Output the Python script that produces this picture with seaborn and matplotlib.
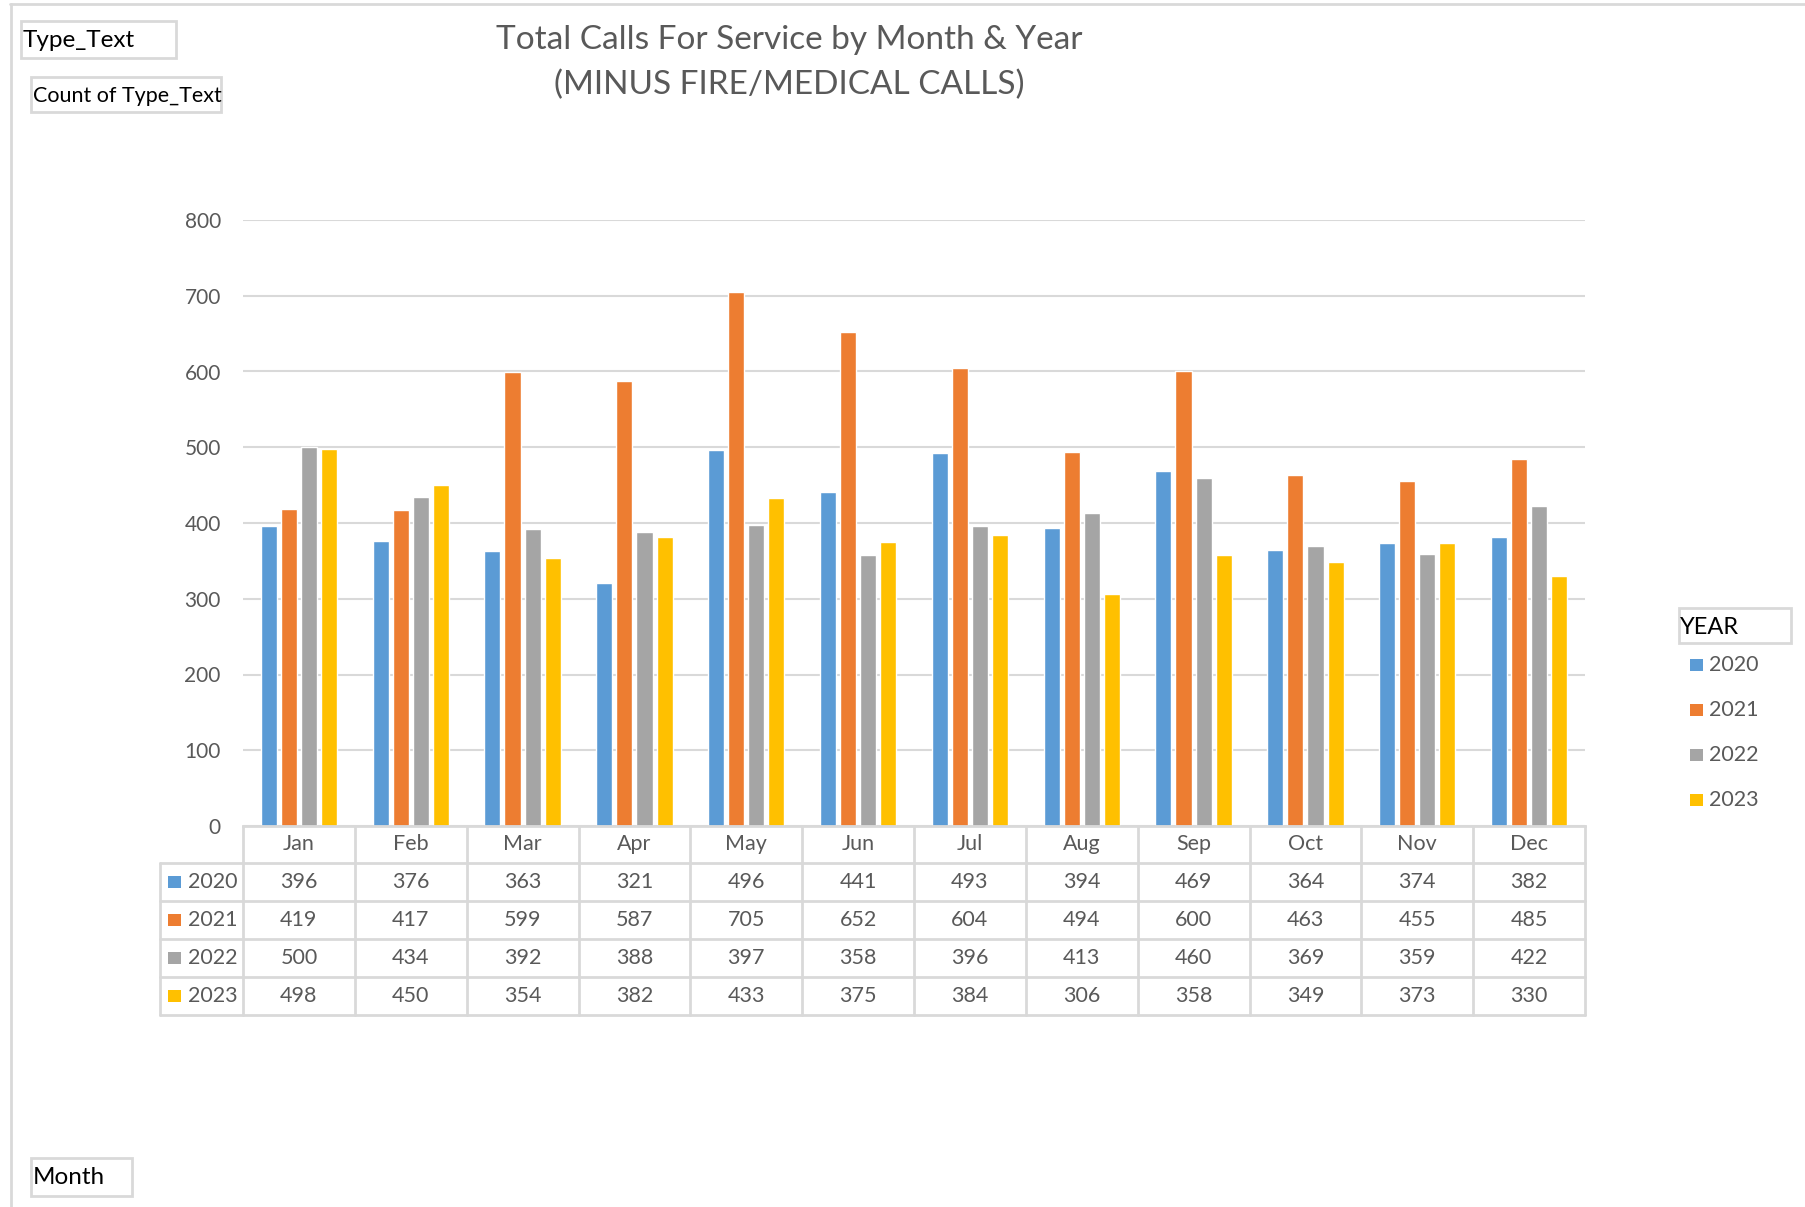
import matplotlib
matplotlib.use("Agg")
import matplotlib.pyplot as plt
import matplotlib.transforms as mtransforms
from matplotlib.patches import Rectangle
import seaborn as sns
import pandas as pd

# data
months = ["Jan", "Feb", "Mar", "Apr", "May", "Jun", "Jul", "Aug", "Sep", "Oct", "Nov", "Dec"]
years = ["2020", "2021", "2022", "2023"]
calls_2020 = [396, 376, 363, 321, 496, 441, 493, 394, 469, 364, 374, 382]
calls_2021 = [419, 417, 599, 587, 705, 652, 604, 494, 600, 463, 455, 485]
calls_2022 = [500, 434, 392, 388, 397, 358, 396, 413, 460, 369, 359, 422]
calls_2023 = [498, 450, 354, 382, 433, 375, 384, 306, 358, 349, 373, 330]
year_colors = ["#5B9BD5", "#ED7D31", "#A5A5A5", "#FFC000"]

series = [calls_2020, calls_2021, calls_2022, calls_2023]
df = pd.DataFrame({
    "Month": months * len(years),
    "Year": [y for y in years for _ in months],
    "Calls": [v for s in series for v in s],
})

sns.set_theme(style="white")
plt.rcParams["font.family"] = ["Lato", "DejaVu Sans"]

W, H = 1806, 1207
fig = plt.figure(figsize=(W / 100, H / 100), dpi=100)
# axes placed in pixel terms
left, right, top, bottom = 243, 1585, 220, 826
ax = fig.add_axes([left / W, 1 - bottom / H, (right - left) / W, (bottom - top) / H])

sns.barplot(data=df, x="Month", y="Calls", hue="Year", palette=year_colors,
            width=0.72, gap=0.2, legend=False, ax=ax, saturation=1)

grey_txt = "#595959"
line_col = "#D9D9D9"
ax.set_ylim(0, 800)
ax.set_xlim(-0.5, len(months) - 0.5)
ax.set_yticks(range(0, 801, 100))
ax.grid(axis="y", color=line_col, lw=1.5)
ax.set_axisbelow(True)
for s in ["top", "right", "left"]:
    ax.spines[s].set_visible(False)
ax.spines["bottom"].set_color(line_col)
ax.spines["bottom"].set_linewidth(2)
ax.tick_params(axis="y", length=0, pad=16, labelsize=15, labelcolor=grey_txt)
ax.tick_params(axis="x", length=0, pad=5.5, labelsize=15.5, labelcolor=grey_txt)
ax.set_xlabel("")
ax.set_ylabel("")

# data table under the axis
tr = mtransforms.blended_transform_factory(ax.transData, fig.transFigure)
ff = fig.transFigure
row_edges = [826, 863, 901, 939, 977, 1015]
label_left = 160
fy = lambda p: 1 - p / H
for k in range(len(months) + 1):
    ax.plot([k - 0.5, k - 0.5], [fy(row_edges[0]), fy(row_edges[-1])], transform=tr,
            color=line_col, lw=2, clip_on=False)
fig.add_artist(plt.Line2D([label_left / W, label_left / W], [fy(row_edges[1]), fy(row_edges[-1])],
                          transform=ff, color=line_col, lw=2))
for p in row_edges[1:]:
    fig.add_artist(plt.Line2D([label_left / W, right / W], [fy(p), fy(p)], transform=ff,
                              color=line_col, lw=2))
for r, (yr, vals, col) in enumerate(zip(years, series, year_colors)):
    yc = fy((row_edges[r + 1] + row_edges[r + 2]) / 2)
    fig.add_artist(Rectangle((168 / W, yc - 6 / H), 13 / W, 12 / H, transform=ff,
                             color=col, lw=0))
    fig.text(188 / W, yc, yr, ha="left", va="center", fontsize=15.5, color=grey_txt)
    for i, v in enumerate(vals):
        ax.text(i, yc, str(v), transform=tr, ha="center", va="center",
                fontsize=15.5, color=grey_txt)

# title
fig.text(789 / W, fy(40), "Total Calls For Service by Month & Year", ha="center", va="center",
         fontsize=24, color=grey_txt)
fig.text(789 / W, fy(85), "(MINUS FIRE/MEDICAL CALLS)", ha="center", va="center",
         fontsize=24, color=grey_txt)

# legend
fig.add_artist(Rectangle((1679 / W, fy(643)), 112 / W, 35 / H, transform=ff,
                         fill=False, edgecolor=line_col, lw=2))
fig.text(1680 / W, fy(628), "YEAR", ha="left", va="center", fontsize=17, color="black")
for j, (yr, col) in enumerate(zip(years, year_colors)):
    yc = fy(665 + j * 45)
    fig.add_artist(Rectangle((1690 / W, yc - 6 / H), 13 / W, 12 / H, transform=ff,
                             color=col, lw=0))
    fig.text(1709 / W, yc, yr, ha="left", va="center", fontsize=15.5, color=grey_txt)

# pivot field buttons
def field_box(x0, y0, x1, y1, label, size):
    fig.add_artist(Rectangle((x0 / W, fy(y1)), (x1 - x0) / W, (y1 - y0) / H, transform=ff,
                             fill=False, edgecolor=line_col, lw=2))
    fig.text((x0 + 2) / W, fy((y0 + y1) / 2 + 1), label, ha="left", va="center",
             fontsize=size, color="black")

field_box(21, 21, 176, 58, "Type_Text", 17.5)
field_box(31, 77, 221, 112, "Count of Type_Text", 15.5)
field_box(31, 1158, 132, 1196, "Month", 17.5)

# outer chart frame
fig.add_artist(plt.Line2D([10 / W, 1], [fy(4), fy(4)], transform=ff, color=line_col, lw=2))
fig.add_artist(plt.Line2D([11 / W, 11 / W], [0, fy(4)], transform=ff, color=line_col, lw=2))

fig.savefig("out.png", dpi=100)
